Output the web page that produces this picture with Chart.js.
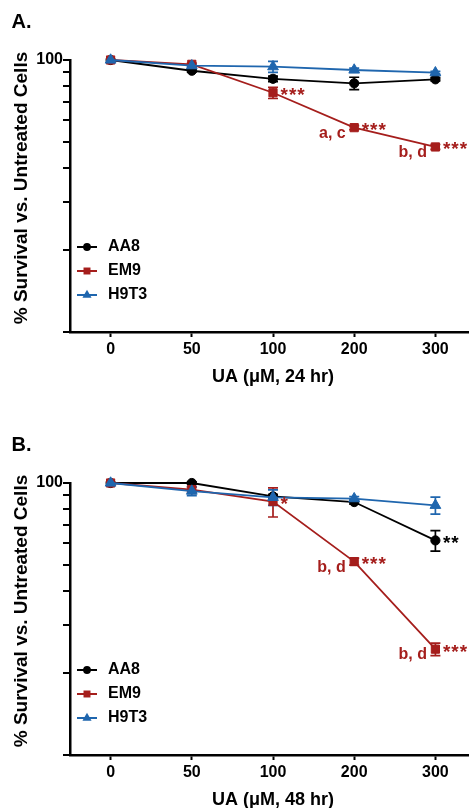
<!DOCTYPE html>
<html><head><meta charset="utf-8">
<script src="https://cdn.jsdelivr.net/npm/chart.js@4.4.1/dist/chart.umd.min.js"></script>
<style>
html,body{margin:0;padding:0;background:#fff;width:469px;height:808px;overflow:hidden;position:relative}
canvas{position:absolute;left:0}
#cA{top:0}
#cB{top:423px}
</style></head><body>
<canvas id="cA" width="490" height="400"></canvas>
<canvas id="cB" width="490" height="400"></canvas>
<script>
// ---------- data ----------
const doses = ['0', '50', '100', '200', '300'];
const seriesNames = ['AA8', 'EM9', 'H9T3'];
const yTicks = [10, 20, 30, 40, 50, 60, 70, 80, 90, 100];
const yTickLabels = [100];

// Panel A: 24 hr
const aa8_24 = [100, 91.3, 85.3, 82.1, 84.9];
const em9_24 = [100, 96.4, 75.8, 56.4, 47.9];
const h9t3_24 = [100, 95.3, 94.5, 91.9, 89.8];
const aa8_24_sem = [0, 1.0, 2.0, 4.3, 1.2];
const em9_24_sem = [0, 1.0, 3.6, 1.0, 1.0];
const h9t3_24_sem = [0, 1.0, 4.4, 1.5, 1.0];
const aa8_24_sig = ['', '', '', '', ''];
const em9_24_sig = ['', '', '***', '***', '***'];
const h9t3_24_sig = ['', '', '', '', ''];
const em9_24_letters = ['', '', '', 'a, c', 'b, d'];

// Panel B: 48 hr
const aa8_48 = [100, 100, 89.3, 85.1, 61.5];
const em9_48 = [100, 94.6, 85.5, 51.4, 24.5];
const h9t3_48 = [100, 93.4, 88.6, 87.6, 82.8];
const aa8_48_sem = [0, 1.0, 1.5, 1.5, 5.3];
const em9_48_sem = [0, 2.0, 10.5, 1.5, 1.3];
const h9t3_48_sem = [0, 3.6, 5.8, 1.5, 6.0];
const aa8_48_sig = ['', '', '', '', '**'];
const em9_48_sig = ['', '', '*', '***', '***'];
const h9t3_48_sig = ['', '', '', '', ''];
const em9_48_letters = ['', '', '', 'b, d', 'b, d'];

const panelLabels = ['A.', 'B.'];
const xTitles = ['UA (\u03bcM, 24 hr)', 'UA (\u03bcM, 48 hr)'];
const yTitle = '% Survival vs. Untreated Cells';

// ---------- styles ----------
const FONT = '"Liberation Sans", Arial, Helvetica, sans-serif';
Chart.defaults.font.family = FONT;
const styles = [
  {color: '#000000', pointStyle: 'circle', radius: 4.6, order: 3},
  {color: '#A51E1C', pointStyle: 'rect', radius: 5.8, order: 2},
  {color: '#1F66AE', pointStyle: 'triangle', radius: 6.2, order: 1}
];

function drawMarker(ctx, style, r, x, y) {
  ctx.beginPath();
  if (style === 'circle') {
    ctx.arc(x, y, r, 0, Math.PI * 2);
  } else if (style === 'rect') {
    const s = Math.SQRT1_2 * r;
    ctx.rect(x - s, y - s, 2 * s, 2 * s);
  } else {
    for (let k = 0; k < 3; k++) {
      const a = k * 2 * Math.PI / 3;
      const px = x + Math.sin(a) * r, py = y - Math.cos(a) * r;
      k ? ctx.lineTo(px, py) : ctx.moveTo(px, py);
    }
    ctx.closePath();
  }
  ctx.fill();
}

function makeDeco(info) {
  return {
    id: 'deco',
    beforeDatasetsDraw(chart) {
      const ctx = chart.ctx, ys = chart.scales.y, ca = chart.chartArea;
      // y-axis tick marks from the log scale
      ctx.save();
      ctx.strokeStyle = '#000';
      ctx.lineWidth = 2;
      yTicks.forEach(v => {
        const py = Math.round(ys.getPixelForValue(v));
        ctx.beginPath();
        ctx.moveTo(ca.left - 7, py);
        ctx.lineTo(ca.left, py);
        ctx.stroke();
      });
      ctx.restore();
      // error bars
      info.sems.forEach((sem, di) => {
        const meta = chart.getDatasetMeta(di);
        const vals = chart.data.datasets[di].data;
        ctx.save();
        ctx.strokeStyle = styles[di].color;
        ctx.lineWidth = 1.7;
        sem.forEach((e, i) => {
          if (!e) return;
          const x = meta.data[i].x;
          const y1 = ys.getPixelForValue(vals[i] + e);
          const y2 = ys.getPixelForValue(vals[i] - e);
          ctx.beginPath();
          ctx.moveTo(x, y1); ctx.lineTo(x, y2);
          ctx.moveTo(x - 5, y1); ctx.lineTo(x + 5, y1);
          ctx.moveTo(x - 5, y2); ctx.lineTo(x + 5, y2);
          ctx.stroke();
        });
        ctx.restore();
      });
    },
    afterDatasetsDraw(chart) {
      const ctx = chart.ctx;
      ctx.save();
      info.sigs.forEach((sig, di) => {
        const meta = chart.getDatasetMeta(di);
        ctx.fillStyle = styles[di].color;
        sig.forEach((t, i) => {
          if (!t) return;
          const p = meta.data[i];
          ctx.font = 'bold 19px ' + FONT;
          ctx.textAlign = 'left';
          ctx.textBaseline = 'alphabetic';
          ctx.letterSpacing = '1px';
          ctx.fillText(t, p.x + 7.5, p.y + 8.5);
        });
      });
      ctx.letterSpacing = '0px';
      ctx.font = 'bold 16px ' + FONT;
      const li = info.letterSeries;
      const meta = chart.getDatasetMeta(li);
      ctx.fillStyle = styles[li].color;
      info.letters.forEach((t, i) => {
        if (!t) return;
        const p = meta.data[i];
        ctx.textAlign = 'right';
        ctx.textBaseline = 'alphabetic';
        ctx.fillText(t, p.x - 8.5, p.y + 10);
      });
      ctx.restore();
    },
    afterDraw(chart) {
      const ctx = chart.ctx, ca = chart.chartArea;
      ctx.save();
      // panel label
      ctx.fillStyle = '#000';
      ctx.font = 'bold 20px ' + FONT;
      ctx.textAlign = 'left';
      ctx.textBaseline = 'alphabetic';
      ctx.fillText(info.panel, 11.5, 28);
      // y title
      ctx.save();
      ctx.font = 'bold 19px ' + FONT;
      ctx.translate(26.5, ca.top + 128);
      ctx.rotate(-Math.PI / 2);
      ctx.textAlign = 'center';
      ctx.fillText(yTitle, 0, 0);
      ctx.restore();
      // legend
      seriesNames.forEach((name, i) => {
        const y = ca.top + 187 + 24 * i;
        const st = styles[i];
        ctx.strokeStyle = st.color;
        ctx.fillStyle = st.color;
        ctx.lineWidth = 2;
        ctx.beginPath();
        ctx.moveTo(77, y); ctx.lineTo(97, y);
        ctx.stroke();
        drawMarker(ctx, st.pointStyle, st.radius * 0.85, 87, y);
        ctx.fillStyle = '#000';
        ctx.font = 'bold 16px ' + FONT;
        ctx.textBaseline = 'middle';
        ctx.textAlign = 'left';
        ctx.fillText(name, 108, y);
      });
      ctx.restore();
    }
  };
}

function makePanel(id, idx, seriesData, sems, sigs, letters) {
  const datasets = seriesData.map((d, i) => ({
    label: seriesNames[i],
    data: d,
    borderColor: styles[i].color,
    backgroundColor: styles[i].color,
    pointBackgroundColor: styles[i].color,
    pointBorderColor: styles[i].color,
    pointStyle: styles[i].pointStyle,
    pointRadius: styles[i].radius,
    pointBorderWidth: 1,
    borderWidth: 1.8,
    tension: 0,
    clip: false,
    order: styles[i].order
  }));
  return new Chart(document.getElementById(id), {
    type: 'line',
    data: {labels: doses, datasets},
    options: {
      responsive: false,
      animation: false,
      devicePixelRatio: 1,
      layout: {padding: {top: 60, right: 14, bottom: 8, left: 0}},
      plugins: {legend: {display: false}, tooltip: {enabled: false}},
      scales: {
        x: {
          type: 'category',
          offset: true,
          grid: {display: true, drawOnChartArea: false, drawTicks: true, tickLength: 5, tickWidth: 2, tickColor: '#000', offset: false},
          border: {display: true, color: '#000', width: 2.5},
          ticks: {color: '#000', font: {size: 16, weight: 'bold'}, padding: 3, maxRotation: 0, autoSkip: false},
          title: {display: true, text: xTitles[idx], color: '#000', font: {size: 18, weight: 'bold'}, padding: {top: 0, bottom: 4}},
          afterFit(s) { s.height = 60; }
        },
        y: {
          type: 'logarithmic',
          min: 10,
          max: 100,
          afterBuildTicks(s) { s.ticks = yTicks.map(v => ({value: v})); },
          grid: {display: false, drawTicks: false},
          border: {display: true, color: '#000', width: 2.5},
          ticks: {color: '#000', font: {size: 16, weight: 'bold'}, padding: 7, autoSkip: false,
                  major: {enabled: false},
                  callback: v => yTickLabels.includes(v) ? String(v) : ''},
          afterFit(s) { s.width = 70; }
        }
      }
    },
    plugins: [makeDeco({panel: panelLabels[idx], sems, sigs, letters, letterSeries: 1})]
  });
}

makePanel('cA', 0, [aa8_24, em9_24, h9t3_24], [aa8_24_sem, em9_24_sem, h9t3_24_sem],
          [aa8_24_sig, em9_24_sig, h9t3_24_sig], em9_24_letters);
makePanel('cB', 1, [aa8_48, em9_48, h9t3_48], [aa8_48_sem, em9_48_sem, h9t3_48_sem],
          [aa8_48_sig, em9_48_sig, h9t3_48_sig], em9_48_letters);
</script>
</body></html>
